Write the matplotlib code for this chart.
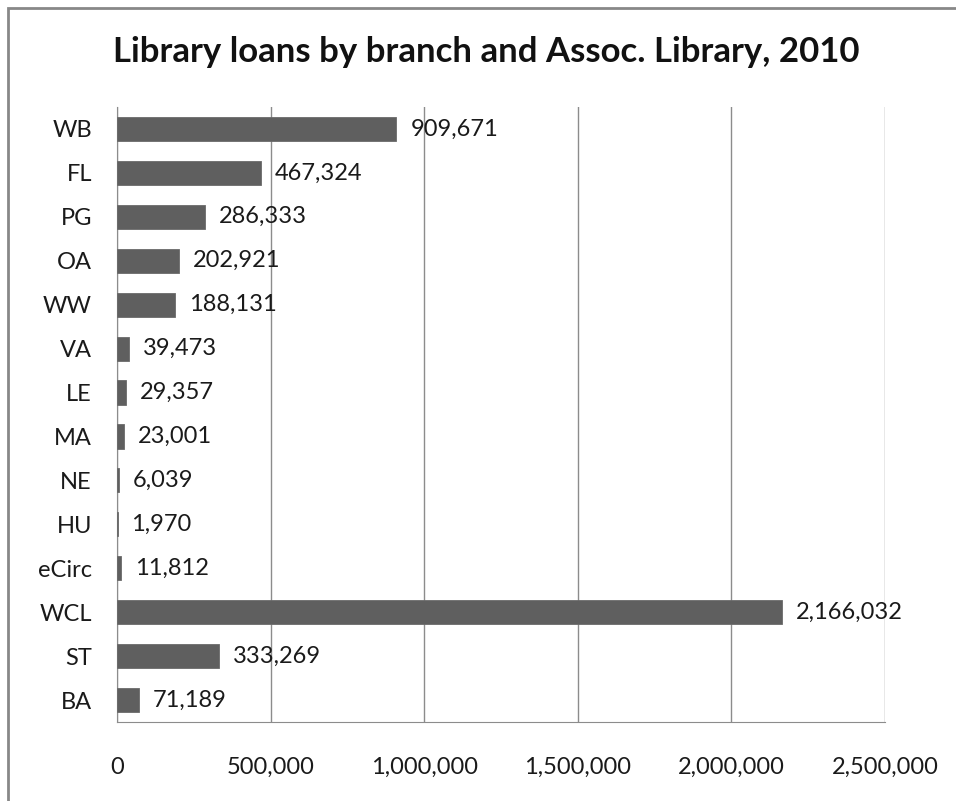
import matplotlib.pyplot as plt
from matplotlib.patches import Rectangle
from matplotlib.ticker import FuncFormatter

# loans per branch, 2010
branches = ["WB", "FL", "PG", "OA", "WW", "VA", "LE", "MA", "NE", "HU", "eCirc", "WCL", "ST", "BA"]
loans = [909671, 467324, 286333, 202921, 188131, 39473, 29357, 23001, 6039, 1970, 11812, 2166032, 333269, 71189]
x_ticks = [0, 500000, 1000000, 1500000, 2000000, 2500000]

plt.rcParams['font.family'] = ['Lato', 'DejaVu Sans']

fig = plt.figure(figsize=(9.56, 8.01), dpi=100)
W, H = 956, 801
ax = fig.add_axes([117 / W, 1 - 722 / H, (885 - 117) / W, (722 - 107) / H])

# outer chart frame
fig.patches.append(Rectangle((8 / W, -0.05), 1.2, 1 - 8 / H + 0.05, transform=fig.transFigure,
                             fill=False, edgecolor='#888888', linewidth=2))

pos = list(range(len(branches)))
ax.barh(pos, loans, height=0.55, color='#5f5f5f', edgecolor='#6a6a6a', linewidth=0.6, zorder=3)
ax.set_ylim(len(branches) - 0.5, -0.5)
ax.set_xlim(0, 2500000)
ax.set_xticks(x_ticks)
ax.xaxis.set_major_formatter(FuncFormatter(lambda v, p: f"{int(v):,}"))
ax.set_yticks(pos)
ax.set_yticklabels(branches)

ax.grid(axis='x', color='#8c8c8c', linewidth=1, zorder=0)
for s in ['top', 'right']:
    ax.spines[s].set_visible(False)
ax.spines['left'].set_color('#8c8c8c')
ax.spines['bottom'].set_color('#8c8c8c')
ax.tick_params(axis='both', length=0, labelsize=17, colors='#1a1a1a')
ax.tick_params(axis='y', pad=18)
ax.tick_params(axis='x', pad=25)

for p, v in zip(pos, loans):
    ax.annotate(f"{v:,}", (v, p), xytext=(10, 0), textcoords='offset points',
                va='center', ha='left', fontsize=17, color='#1a1a1a', zorder=4)

fig.text(486 / W, 1 - 52 / H, "Library loans by branch and Assoc. Library, 2010",
         ha='center', va='center', fontsize=25, fontweight='bold', color='#111111')

fig.savefig("out.png", dpi=100, facecolor='white')
